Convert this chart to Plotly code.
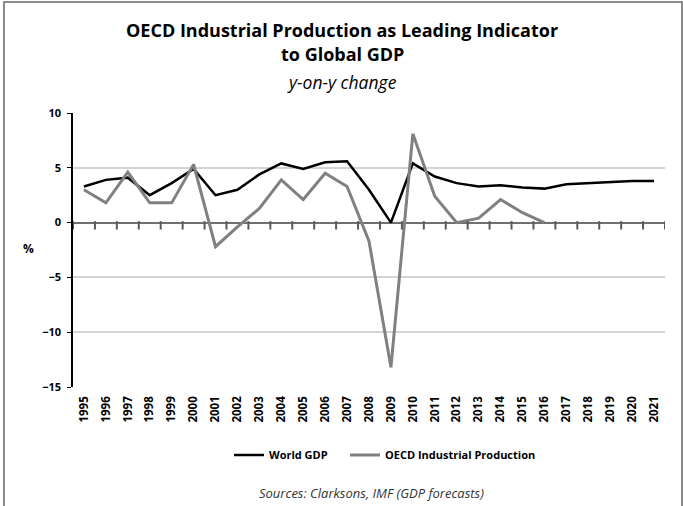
import plotly.graph_objects as go

# Years on the category axis
years = [str(y) for y in range(1995, 2022)]

# World GDP growth, % y-on-y (IMF forecasts from 2016)
world_gdp = [3.3, 3.9, 4.1, 2.5, 3.6, 4.9, 2.5, 3.0, 4.4, 5.4, 4.9, 5.5, 5.6,
             3.0, 0.0, 5.4, 4.2, 3.6, 3.3, 3.4, 3.2, 3.1, 3.5, 3.6, 3.7, 3.8, 3.8]

# OECD industrial production growth, % y-on-y (actuals to 2016)
oecd_ip = [3.0, 1.8, 4.6, 1.8, 1.8, 5.3, -2.2, -0.4, 1.3, 3.9, 2.1, 4.5, 3.3,
           -1.7, -13.2, 8.1, 2.4, 0.0, 0.4, 2.1, 0.9, 0.0]

FONT = "Open Sans"
LEGEND_FONT = dict(family=FONT, size=11, weight="bold")
AXIS_GREY = "#5a5a5a"

n = len(years)
cat_range = [-0.5, n - 0.5]
# tick marks hanging below the zero line, between the year categories
boundaries = [i - 0.5 for i in range(n + 1)]
TICK_DROP = -0.25  # centre of each tick mark, just under the zero line

fig = go.Figure()

fig.add_trace(go.Scatter(
    x=years, y=world_gdp, mode="lines", name="World GDP",
    line=dict(color="#000000", width=2.5), legend="legend",
))
fig.add_trace(go.Scatter(
    x=years[:len(oecd_ip)], y=oecd_ip, mode="lines",
    name="OECD Industrial Production",
    line=dict(color="#808080", width=3), legend="legend2",
))
fig.add_trace(go.Scatter(
    x=boundaries, y=[TICK_DROP] * len(boundaries), xaxis="x2", yaxis="y",
    mode="markers", showlegend=False, hoverinfo="skip",
    marker=dict(symbol="line-ns-open", size=6, color=AXIS_GREY,
                line=dict(color=AXIS_GREY, width=2)),
))

fig.update_layout(
    width=683, height=506,
    margin=dict(l=73, r=18, t=113, b=119),
    paper_bgcolor="white", plot_bgcolor="white",
    font=dict(family=FONT, color="#000000"),
    showlegend=True,
    legend=dict(
        orientation="h", x=0.2635, xanchor="left", y=-0.248, yanchor="middle",
        font=LEGEND_FONT, itemwidth=30, bgcolor="rgba(0,0,0,0)",
    ),
    legend2=dict(
        orientation="h", x=0.4595, xanchor="left", y=-0.248, yanchor="middle",
        font=LEGEND_FONT, itemwidth=30, bgcolor="rgba(0,0,0,0)",
    ),
    xaxis=dict(
        type="category", range=cat_range,
        showline=False, showgrid=False,
        ticks="", tickangle=-90, ticklabelstandoff=6,
        tickfont=dict(family=FONT, size=11.5, weight="bold"),
        zeroline=False,
    ),
    xaxis2=dict(
        type="linear", overlaying="x", anchor="y", range=cat_range,
        showline=False, showgrid=False, zeroline=False,
        showticklabels=False, ticks="",
    ),
    yaxis=dict(
        range=[-15, 10], dtick=5, tick0=0,
        showline=True, linecolor="#000000", linewidth=1.5,
        ticks="outside", ticklen=4, tickcolor="#000000",
        showgrid=True, gridcolor="#d4d4d4", gridwidth=2,
        zeroline=True, zerolinecolor="#707070", zerolinewidth=1.5,
        tickfont=dict(family=FONT, size=11, weight="bold"),
        ticklabelstandoff=4,
    ),
    shapes=[dict(
        type="rect", xref="paper", yref="paper",
        x0=-0.1166, x1=1.0287, y0=-0.48, y1=1.405,
        line=dict(color="#666666", width=1.5), fillcolor="rgba(0,0,0,0)",
    )],
    annotations=[
        dict(text="OECD Industrial Production as Leading Indicator",
             x=0.455, y=1.3029, xref="paper", yref="paper", showarrow=False,
             xanchor="center", yanchor="middle",
             font=dict(family=FONT, size=18, weight="bold")),
        dict(text="to Global GDP",
             x=0.455, y=1.2153, xref="paper", yref="paper", showarrow=False,
             xanchor="center", yanchor="middle",
             font=dict(family=FONT, size=18, weight="bold")),
        dict(text="y-on-y change",
             x=0.455, y=1.1131, xref="paper", yref="paper", showarrow=False,
             xanchor="center", yanchor="middle",
             font=dict(family=FONT, size=17.5, style="italic")),
        dict(text="%", x=-0.076, y=0.507, xref="paper", yref="paper",
             showarrow=False, xanchor="center", yanchor="middle",
             font=dict(family=FONT, size=12, weight="bold")),
        dict(text="Sources: Clarksons, IMF (GDP forecasts)",
             x=0.505, y=-0.386, xref="paper", yref="paper", showarrow=False,
             xanchor="center", yanchor="middle",
             font=dict(family=FONT, size=13, style="italic", color="#333333")),
    ],
)

fig.write_html("out.html")
